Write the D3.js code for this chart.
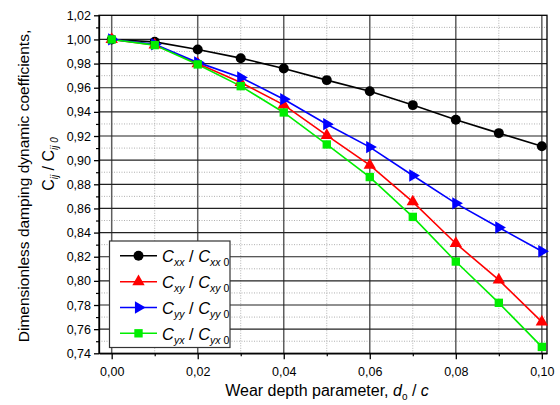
<!DOCTYPE html>
<html>
<head>
<meta charset="utf-8">
<script src="https://cdn.jsdelivr.net/npm/d3@7"></script>
<style>
  html, body { margin: 0; padding: 0; background: #fff; }
  svg { display: block; font-family: "Liberation Sans", Arial, sans-serif; }
</style>
</head>
<body>
<svg id="chart" width="560" height="405"></svg>
<script>
// ---- data ----
const wearDepth = [0.00, 0.01, 0.02, 0.03, 0.04, 0.05, 0.06, 0.07, 0.08, 0.09, 0.10];
const cxx = [1.000, 0.998, 0.9917, 0.9845, 0.976, 0.9663, 0.957, 0.9456, 0.9334, 0.9224, 0.9116];
const cxy = [1.000, 0.9955, 0.980, 0.9644, 0.9458, 0.9205, 0.8959, 0.8655, 0.831, 0.8008, 0.766];
const cyy = [1.000, 0.996, 0.981, 0.9685, 0.9505, 0.9298, 0.9108, 0.8873, 0.8642, 0.8442, 0.8245];
const cyx = [1.000, 0.9953, 0.9793, 0.9613, 0.9395, 0.913, 0.886, 0.853, 0.816, 0.7818, 0.7453];
const seriesSubs = ["xx", "xy", "yy", "yx"];
const seriesColors = ["#000000", "#ff0000", "#0000ff", "#00ee00"];
const seriesMarkers = ["circle", "triangleUp", "triangleRight", "square"];
const xTicks = [0.00, 0.02, 0.04, 0.06, 0.08, 0.10];
const xMinorTicks = [0.01, 0.03, 0.05, 0.07, 0.09];
const yTicks = [0.74, 0.76, 0.78, 0.80, 0.82, 0.84, 0.86, 0.88, 0.90, 0.92, 0.94, 0.96, 0.98, 1.00, 1.02];
const yMinorTicks = [0.75, 0.77, 0.79, 0.81, 0.83, 0.85, 0.87, 0.89, 0.91, 0.93, 0.95, 0.97, 0.99, 1.01];

const seriesValues = [cxx, cxy, cyy, cyx];

// ---- layout ----
const svg = d3.select("#chart");
const L = 99, R = 547, T = 15.3, B = 353.3;
const x = d3.scaleLinear().domain([-0.00295, 0.1012]).range([L, R]);
const y = d3.scaleLinear().domain([0.74, 1.02]).range([B, T]);
const fmt = v => d3.format(".2f")(v).replace(".", ",");
const FONT = "'Liberation Sans', Arial, sans-serif";

// minor grid (dotted)
const g = svg.append("g");
g.selectAll(".vminor").data(xMinorTicks).join("line")
  .attr("x1", d => x(d)).attr("x2", d => x(d)).attr("y1", T).attr("y2", B)
  .attr("stroke", "#b0b0b0").attr("stroke-width", 1).attr("stroke-dasharray", "1,1.5");
g.selectAll(".hminor").data(yMinorTicks).join("line")
  .attr("x1", L).attr("x2", R).attr("y1", d => y(d)).attr("y2", d => y(d))
  .attr("stroke", "#b0b0b0").attr("stroke-width", 1).attr("stroke-dasharray", "1,1.5");
// major grid
g.selectAll(".vmajor").data(xTicks).join("line")
  .attr("x1", d => x(d)).attr("x2", d => x(d)).attr("y1", T).attr("y2", B)
  .attr("stroke", "#5e5e5e").attr("stroke-width", 1.5);
g.selectAll(".hmajor").data(yTicks.slice(1, -1)).join("line")
  .attr("x1", L).attr("x2", R).attr("y1", d => y(d)).attr("y2", d => y(d))
  .attr("stroke", "#222").attr("stroke-width", 1.2);

// frame
svg.append("rect").attr("x", L).attr("y", T).attr("width", R - L).attr("height", B - T)
  .attr("fill", "none").attr("stroke", "#000").attr("stroke-width", 1.3);

// axes
const xAxis = d3.axisBottom(x).tickValues(xTicks).tickFormat(fmt).tickSize(6).tickSizeOuter(0);
const xAx = svg.append("g").attr("transform", `translate(0,${B})`).call(xAxis);
xAx.select(".domain").attr("stroke-width", 1.3);
xAx.selectAll("text").attr("font-size", 12.5).attr("fill", "#000").attr("y", 11).attr("dy", "0.9em").attr("font-family", FONT);
xAx.selectAll(".tick line").attr("stroke-width", 1.3);
const xMin = d3.axisBottom(x).tickValues(xMinorTicks).tickFormat("").tickSize(3).tickSizeOuter(0);
const xMinAx = svg.append("g").attr("transform", `translate(0,${B})`).call(xMin);
xMinAx.select(".domain").remove();
xMinAx.selectAll(".tick line").attr("stroke-width", 1.2);

const yAxis = d3.axisLeft(y).tickValues(yTicks).tickFormat(fmt).tickSize(5).tickSizeOuter(0);
const yAx = svg.append("g").attr("transform", `translate(${L},0)`).call(yAxis);
yAx.select(".domain").attr("stroke-width", 1.3);
yAx.selectAll("text").attr("font-size", 12.5).attr("fill", "#000").attr("x", -8).attr("font-family", FONT);
yAx.selectAll(".tick line").attr("stroke-width", 1.3);
const yMin = d3.axisLeft(y).tickValues(yMinorTicks).tickFormat("").tickSize(3).tickSizeOuter(0);
const yMinAx = svg.append("g").attr("transform", `translate(${L},0)`).call(yMin);
yMinAx.select(".domain").remove();
yMinAx.selectAll(".tick line").attr("stroke-width", 1.2);

// ---- series ----
const line = d3.line().x((d, i) => x(wearDepth[i])).y(d => y(d));
const drawMarker = (sel, type, color) => {
  let sym = d3.symbolTriangle, size = 66;
  if (type === "circle") { sym = d3.symbolCircle; size = 78; }
  if (type === "square") { sym = d3.symbolSquare; size = 70; }
  sel.append("path").attr("d", d3.symbol(sym, size)()).attr("fill", color)
    .attr("transform", type === "triangleRight" ? "rotate(90)" : null);
};

seriesValues.forEach((vals, si) => {
  svg.append("path").datum(vals).attr("d", line).attr("fill", "none")
    .attr("stroke", seriesColors[si]).attr("stroke-width", 1.6);
});
seriesValues.forEach((vals, si) => {
  const gg = svg.append("g");
  vals.forEach((v, i) => {
    const mg = gg.append("g").attr("transform", `translate(${x(wearDepth[i])},${y(v)})`);
    drawMarker(mg, seriesMarkers[si], seriesColors[si]);
  });
});

// ---- legend ----
const lg = svg.append("g");
lg.append("rect").attr("x", 109.5).attr("y", 241).attr("width", 120.5).attr("height", 106.5)
  .attr("fill", "#fff").attr("stroke", "#333").attr("stroke-width", 1.2);
const rowY = [255.7, 281.7, 307.5, 333.3];
seriesSubs.forEach((s, i) => {
  const ry = rowY[i];
  lg.append("line").attr("x1", 120).attr("x2", 157).attr("y1", ry).attr("y2", ry)
    .attr("stroke", seriesColors[i]).attr("stroke-width", 1.6);
  const mg = lg.append("g").attr("transform", `translate(138.5,${ry})`);
  drawMarker(mg, seriesMarkers[i], seriesColors[i]);
  const t = lg.append("text").attr("x", 162).attr("y", ry + 6.5).attr("font-size", 16.5).attr("fill", "#000");
  t.append("tspan").attr("font-style", "italic").text("C");
  t.append("tspan").attr("font-style", "italic").attr("font-size", 10.5).attr("dy", 4).text(s);
  t.append("tspan").attr("dy", -4).text(" / ");
  t.append("tspan").attr("font-style", "italic").text("C");
  t.append("tspan").attr("font-style", "italic").attr("font-size", 10.5).attr("dy", 4).text(s + " ");
  t.append("tspan").attr("font-size", 10.5).text("0");
});

// ---- axis titles ----
const xt = svg.append("text").attr("x", 327).attr("y", 396).attr("text-anchor", "middle")
  .attr("font-size", 16).attr("fill", "#000");
xt.append("tspan").text("Wear depth parameter, ");
xt.append("tspan").attr("font-style", "italic").text("d");
xt.append("tspan").attr("font-size", 10).attr("dy", 4).text("o");
xt.append("tspan").attr("dy", -4).text(" / ");
xt.append("tspan").attr("font-style", "italic").text("c");

const yt = svg.append("g").attr("transform", "translate(29,186) rotate(-90)");
yt.append("text").attr("x", 0).attr("y", 0).attr("text-anchor", "middle").attr("font-size", 15.5)
  .attr("fill", "#000").text("Dimensionless damping dynamic coefficients,");
const yt2 = yt.append("text").attr("x", 22).attr("y", 25).attr("text-anchor", "middle")
  .attr("font-size", 16).attr("fill", "#000");
yt2.append("tspan").text("C");
yt2.append("tspan").attr("font-style", "italic").attr("font-size", 10).attr("dy", 4).text("ij");
yt2.append("tspan").attr("dy", -4).text(" / ");
yt2.append("tspan").text("C");
yt2.append("tspan").attr("font-style", "italic").attr("font-size", 10).attr("dy", 4).text("ij 0");
</script>
</body>
</html>
